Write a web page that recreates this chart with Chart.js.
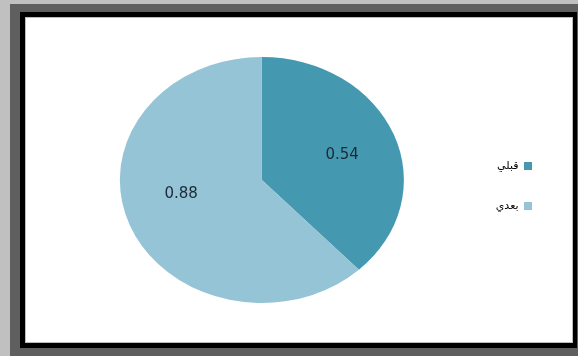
<!DOCTYPE html>
<html>
<head>
<meta charset="utf-8">
<script src="https://cdn.jsdelivr.net/npm/chart.js@4.4.0/dist/chart.umd.min.js"></script>
<style>
  html, body { margin: 0; padding: 0; }
  body { width: 578px; height: 356px; background: #c0c0c0; position: relative; overflow: hidden; }
  #sombra { position: absolute; left: 10px; top: 4px; right: 0; bottom: 0; background: #5f5f5f; }
  #marco { position: absolute; left: 20px; top: 12px; width: 557px; height: 336px; background: #000; }
  #interior { position: absolute; left: 25px; top: 17px; width: 548px; height: 326px; background: #fff;
              border: 1px solid #bcbcbc; box-sizing: border-box; }
  #contenedor { position: absolute; left: 26px; top: 18px; width: 546px; height: 324px; }
</style>
</head>
<body>
<div id="sombra"></div>
<div id="marco"></div>
<div id="interior"></div>
<div id="contenedor"><canvas id="graficoTorta"></canvas></div>
<script>
// Datos del gráfico
const categorias = ['قبلي', 'بعدي'];
const valores = [0.54, 0.88];
const colores = ['#4499b1', '#94c4d6'];

// La torta original está estirada en horizontal (elipse)
const escalaX = 142 / 123;
// posición de las etiquetas: fracción del radio y giro extra (grados)
const radioEtiqueta = [0.6, 0.58];
const giroEtiqueta = [2, 10];

const pluginElipse = {
    id: 'elipse',
    beforeDatasetsDraw(chart) {
        const arco = chart.getDatasetMeta(0).data[0];
        const ctx = chart.ctx;
        ctx.save();
        ctx.translate(arco.x, arco.y);
        ctx.scale(escalaX, 1);
        ctx.translate(-arco.x, -arco.y);
    },
    afterDatasetsDraw(chart) {
        const ctx = chart.ctx;
        ctx.restore();
        // Etiquetas de valores
        const meta = chart.getDatasetMeta(0);
        ctx.save();
        ctx.font = '15px "DejaVu Sans"';
        ctx.fillStyle = '#1c2a36';
        ctx.textAlign = 'center';
        ctx.textBaseline = 'middle';
        meta.data.forEach((arco, i) => {
            const medio = (arco.startAngle + arco.endAngle) / 2 + giroEtiqueta[i] * Math.PI / 180;
            const r = arco.outerRadius * radioEtiqueta[i];
            const x = arco.x + Math.cos(medio) * r * escalaX;
            const y = arco.y + Math.sin(medio) * r;
            ctx.fillText(valores[i].toFixed(2), x, y);
        });
        ctx.restore();
    }
};

document.addEventListener('DOMContentLoaded', () => {
    const ctx = document.getElementById('graficoTorta');
    new Chart(ctx, {
        type: 'pie',
        data: {
            labels: categorias,
            datasets: [{
                data: valores,
                backgroundColor: colores,
                borderWidth: 0
            }]
        },
        options: {
            responsive: true,
            maintainAspectRatio: false,
            animation: false,
            layout: {
                padding: { top: 39, bottom: 39, left: 12, right: 11 }
            },
            plugins: {
                legend: {
                    position: 'right',
                    rtl: true,
                    title: {
                        display: true,
                        text: ' ',
                        padding: 0,
                        font: { size: 10 }
                    },
                    labels: {
                        boxWidth: 8,
                        boxHeight: 8,
                        padding: 29,
                        color: '#000',
                        font: { family: '"DejaVu Sans"', size: 11 }
                    }
                },
                tooltip: { enabled: false }
            }
        },
        plugins: [pluginElipse]
    });
});
</script>
</body>
</html>
